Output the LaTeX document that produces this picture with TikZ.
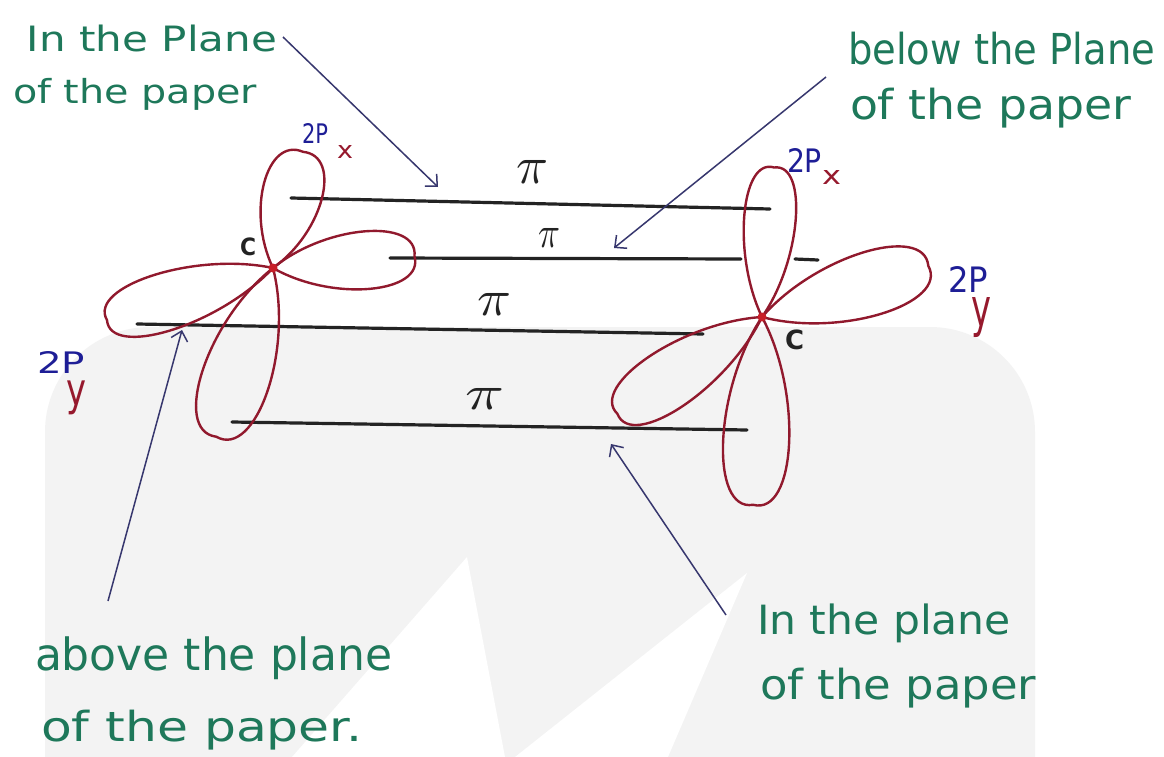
\documentclass[tikz,border=0pt]{standalone}
\usepackage{fontspec}
\usepackage{graphicx}
\usetikzlibrary{arrows.meta}
\newfontfamily\hand{DejaVu Sans}
\definecolor{inkgreen}{RGB}{30,120,90}
\definecolor{inkblue}{RGB}{30,30,150}
\definecolor{inkred}{RGB}{150,25,45}
\definecolor{lobered}{RGB}{145,25,45}
\definecolor{dotred}{RGB}{200,30,40}
\definecolor{bondink}{RGB}{35,35,35}
\definecolor{arrowink}{RGB}{55,55,110}
\definecolor{wmgray}{RGB}{243,243,243}

% scale a piece of text into a box of given width and total height (in pt)
\newcommand{\fitto}[3]{\resizebox*{#1pt}{#2pt}{#3}}

% one p-orbital lobe: centre x, centre y, direction (deg), length, half width
\newcommand{\orblobe}[5]{%
  \draw[lobe, shift={(#1,#2)}, rotate=#3]
    (0,0) .. controls (0.4*#4,1.4*#5) and (1.05*#4,1.35*#5) .. (#4,0)
          .. controls (1.05*#4,-1.35*#5) and (0.4*#4,-1.4*#5) .. (0,0);}

\tikzset{
  lobe/.style={draw=lobered, line width=2.4pt, line join=round},
  bond/.style={draw=bondink, line width=3.2pt, line cap=round},
  pointer/.style={draw=arrowink, line width=1.5pt,
    -{Straight Barb[length=9pt,width=17pt]}},
  lbl/.style={inner sep=0pt, outer sep=0pt, anchor=north west},
  note/.style={lbl, text=inkgreen, font=\hand},
  orbname/.style={lbl, text=inkblue, font=\hand},
  orbsub/.style={lbl, text=inkred, font=\hand},
  atomlbl/.style={lbl, text=bondink, font=\hand\bfseries},
  pilbl/.style={lbl, text=bondink},
}

\begin{document}
\begin{tikzpicture}[x=1pt, y=-1pt]
\useasboundingbox (0,0) rectangle (1164,757);
\fill[white] (0,0) rectangle (1164,757);

% faint background mark
\fill[wmgray] (45,757) [rounded corners=105pt] -- (45,327) -- (1035,327)
  [sharp corners] -- (1035,757) -- cycle;
\fill[white] (467,557) -- (292,757) -- (505,757) -- cycle;
\fill[white] (747,573) -- (515,757) -- (668,757) -- cycle;

% atom centres
\coordinate (c1) at (273,268);
\coordinate (c2) at (762,317);

% pi bonds: side-by-side overlap of the lobes
\coordinate (b1s) at (291,198);  \coordinate (b1e) at (770,209);
\coordinate (b2s) at (390,258);  \coordinate (b2e) at (741,259);
\coordinate (b2r) at (795,259);  \coordinate (b2t) at (818,260);
\coordinate (b3s) at (137,324);  \coordinate (b3e) at (703,334);
\coordinate (b4s) at (232,422);  \coordinate (b4e) at (747,430);
\draw[bond] (b1s) -- (b1e);
\draw[bond] (b2s) -- (b2e);
\draw[bond] (b2r) -- (b2t);
\draw[bond] (b3s) -- (b3e);
\draw[bond] (b4s) -- (b4e);

% left carbon
\orblobe{273}{268}{75.5}{120}{29}
\orblobe{273}{268}{4.8}{142}{28}
\orblobe{273}{268}{197.4}{174}{28}
\orblobe{273}{268}{251.4}{178}{33}
\fill[dotred] (c1) circle (4.5pt);

% right carbon
\orblobe{762}{317}{85.4}{150}{25}
\orblobe{762}{317}{17.1}{174}{31}
\orblobe{762}{317}{213.8}{174}{29}
\orblobe{762}{317}{267.3}{188}{32}
\fill[dotred] (c2) circle (4.5pt);

% atom symbols
\node[atomlbl] (cl) at (240,238) {\fitto{16}{18}{C}};
\node[atomlbl] (cr) at (785,330) {\fitto{19}{20}{C}};

% orbital names (the y index hangs below the P)
\node[orbname] (pxl) at (302,123) {\fitto{26}{20}{2P}};
\node[orbsub]  (pxls) at (337,145) {\fitto{16}{13}{x}};
\node[orbname] (pxr) at (787,148) {\fitto{35}{24}{2P}};
\node[orbsub]  (pxrs) at (822,170) {\fitto{19}{14}{x}};
\node[orbname] (pyl) at (37,351)
  {\fitto{48}{22}{2P}\hspace{-19pt}\raisebox{-32.6pt}[0pt][0pt]{\color{inkred}\fitto{20}{34}{y}}};
\node[orbname] (pyr) at (948,266)
  {\fitto{40}{26}{2P}\hspace{-17pt}\raisebox{-34pt}[0pt][0pt]{\color{inkred}\fitto{20}{40}{y}}};

% pi labels
\node[pilbl] (pi1) at (516,160) {\fitto{32}{23}{$\pi$}};
\node[pilbl] (pi2) at (538,228) {\fitto{22}{19}{$\pi$}};
\node[pilbl] (pi3) at (477,293) {\fitto{34}{22}{$\pi$}};
\node[pilbl] (pi4) at (465,388) {\fitto{39}{21}{$\pi$}};

% notes
\node[note] (n1a) at (27,25)   {\fitto{250}{27}{In the Plane}};
\node[note] (n1b) at (13,78)   {\fitto{244}{32}{of the paper}};
\node[note] (n2a) at (848,32)  {\fitto{307}{33}{below the Plane}};
\node[note] (n2b) at (850,88)  {\fitto{281}{40}{of the paper}};
\node[note] (n3a) at (35,637)  {\fitto{357}{43}{above the plane}};
\node[note] (n3b) at (41,710)  {\fitto{321}{40}{of the paper.}};
\node[note] (n4a) at (757,604) {\fitto{254}{39}{In the plane}};
\node[note] (n4b) at (760,668) {\fitto{276}{40}{of the paper}};

% pointers from the notes to the bonds
\coordinate (a1s) at (283,37);  \coordinate (a1e) at (438,187);
\coordinate (a2s) at (826,77);  \coordinate (a2e) at (614,248);
\coordinate (a3s) at (108,601); \coordinate (a3e) at (182,330);
\coordinate (a4s) at (726,615); \coordinate (a4e) at (611,444);
\draw[pointer] (a1s) -- (a1e);
\draw[pointer] (a2s) -- (a2e);
\draw[pointer] (a3s) -- (a3e);
\draw[pointer] (a4s) -- (a4e);
\end{tikzpicture}
\end{document}
